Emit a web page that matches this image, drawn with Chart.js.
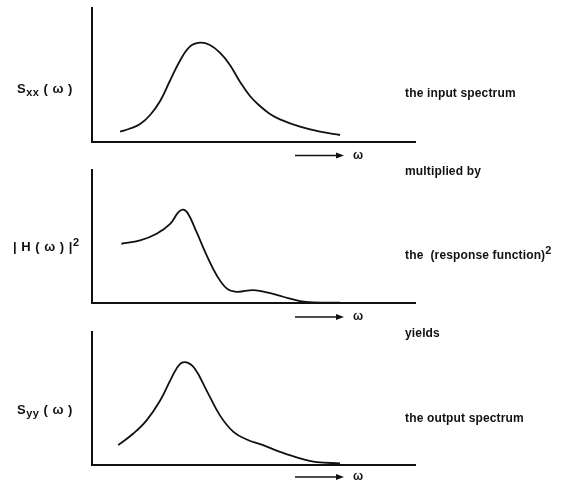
<!DOCTYPE html>
<html>
<head>
<meta charset="utf-8">
<script src="https://cdn.jsdelivr.net/npm/chart.js@4"></script>
<style>
  html, body { margin:0; padding:0; background:#fff; }
  body { width:571px; height:485px; position:relative; overflow:hidden;
         font-family:"Liberation Sans", Arial, sans-serif; color:#111; }
  canvas { position:absolute; left:0; }
  .t { position:absolute; font-size:12px; font-weight:bold; letter-spacing:0.15px; white-space:nowrap; line-height:14px; }
  .lab { position:absolute; font-size:13px; font-weight:bold; white-space:nowrap; line-height:16px; letter-spacing:0.5px; }
  .lab sub { font-size:11px; vertical-align:-3px; }
  .lab sup { font-size:11px; vertical-align:5px; }
  .w { position:absolute; font-size:12px; font-weight:bold; line-height:14px; }
  svg { position:absolute; left:0; top:0; }
</style>
</head>
<body>
<canvas id="c1" width="571" height="150" style="top:0"></canvas>
<canvas id="c2" width="571" height="160" style="top:160px"></canvas>
<canvas id="c3" width="571" height="160" style="top:322px"></canvas>

<svg width="571" height="485">
  <g stroke="#111" stroke-width="1.3">
    <line x1="295" y1="155.5" x2="337" y2="155.5"/>
    <line x1="295" y1="317" x2="337" y2="317"/>
    <line x1="295" y1="477" x2="337" y2="477"/>
  </g>
  <g fill="#111">
    <polygon points="336,152.5 344,155.5 336,158.5"/>
    <polygon points="336,314 344,317 336,320"/>
    <polygon points="336,474 344,477 336,480"/>
  </g>
</svg>

<div class="w" style="left:353px;top:148px">ω</div>
<div class="w" style="left:353px;top:309px">ω</div>
<div class="w" style="left:353px;top:469px">ω</div>

<div class="lab" style="left:17px;top:81px">S<sub>xx</sub> ( ω )</div>
<div class="lab" style="left:13px;top:234px">| H ( ω ) |<sup>2</sup></div>
<div class="lab" style="left:17px;top:402px">S<sub>yy</sub> ( ω )</div>

<div class="t" style="left:405px;top:86px">the input spectrum</div>
<div class="t" style="left:405px;top:164px">multiplied by</div>
<div class="t" style="left:405px;top:248px">the &nbsp;(response function)<sup style="font-size:11px;font-weight:bold;vertical-align:5px;line-height:0">2</sup></div>
<div class="t" style="left:405px;top:326px">yields</div>
<div class="t" style="left:405px;top:411px">the output spectrum</div>

<script>
// frequency ω in arbitrary units (axis spans 0..10)
const omegaIn   = [0.87, 1.18, 1.49, 1.80, 2.11, 2.41, 2.72, 3.03, 3.34, 3.65, 3.96, 4.27, 4.58, 4.89, 5.20, 5.51, 5.82, 6.44, 7.06, 7.68];
const sxxValues = [10.3, 13.5, 18, 27, 41, 61, 81, 95.3, 99.3, 97, 89.3, 77, 60.3, 46, 36, 28, 22.7, 15.3, 10.3, 7];

const omegaH    = [0.91, 1.49, 2.00, 2.42, 2.67, 2.83, 2.98, 3.24, 3.55, 3.86, 4.17, 4.48, 5.00, 5.41, 5.92, 6.44, 6.85, 7.68];
const hValues   = [59.7, 63, 69.7, 79.7, 91.3, 94, 89.7, 71.3, 48, 28, 14.7, 11.3, 13, 10.7, 6.3, 2, 0.7, 0.3];

const omegaOut  = [0.81, 1.28, 1.69, 2.11, 2.47, 2.72, 2.93, 3.19, 3.55, 3.96, 4.38, 4.79, 5.30, 5.82, 6.44, 6.96, 7.68];
const syyValues = [20, 31.7, 45, 65, 88.3, 101.7, 103.3, 96.7, 75, 50, 33.3, 25.7, 20, 13.3, 6.7, 3, 1.7];

const xMin = 0, xMax = 10, yMin = 0, yMax = 134;

function pts(xs, ys) { return xs.map((x, i) => ({ x: x, y: ys[i] })); }

function makeChart(id, xs, ys, pad) {
  return new Chart(document.getElementById(id), {
    type: 'line',
    data: { datasets: [{ data: pts(xs, ys), borderColor: '#111', borderWidth: 1.8,
                         pointRadius: 0, fill: false, tension: 0.4 }] },
    options: {
      responsive: false, animation: false,
      layout: { padding: pad },
      plugins: { legend: { display: false }, tooltip: { enabled: false } },
      scales: {
        x: { type: 'linear', min: xMin, max: xMax,
             ticks: { display: false }, grid: { display: false, drawTicks: false },
             border: { display: true, color: '#111', width: 2 } },
        y: { type: 'linear', min: yMin, max: yMax,
             ticks: { display: false }, grid: { display: false, drawTicks: false },
             border: { display: true, color: '#111', width: 2 } }
      }
    }
  });
}

makeChart('c1', omegaIn, sxxValues, { left: 92, right: 156, top: 8, bottom: 8 });
makeChart('c2', omegaH, hValues,   { left: 92, right: 156, top: 10, bottom: 17 });
makeChart('c3', omegaOut, syyValues, { left: 92, right: 156, top: 10, bottom: 17 });
</script>
</body>
</html>
